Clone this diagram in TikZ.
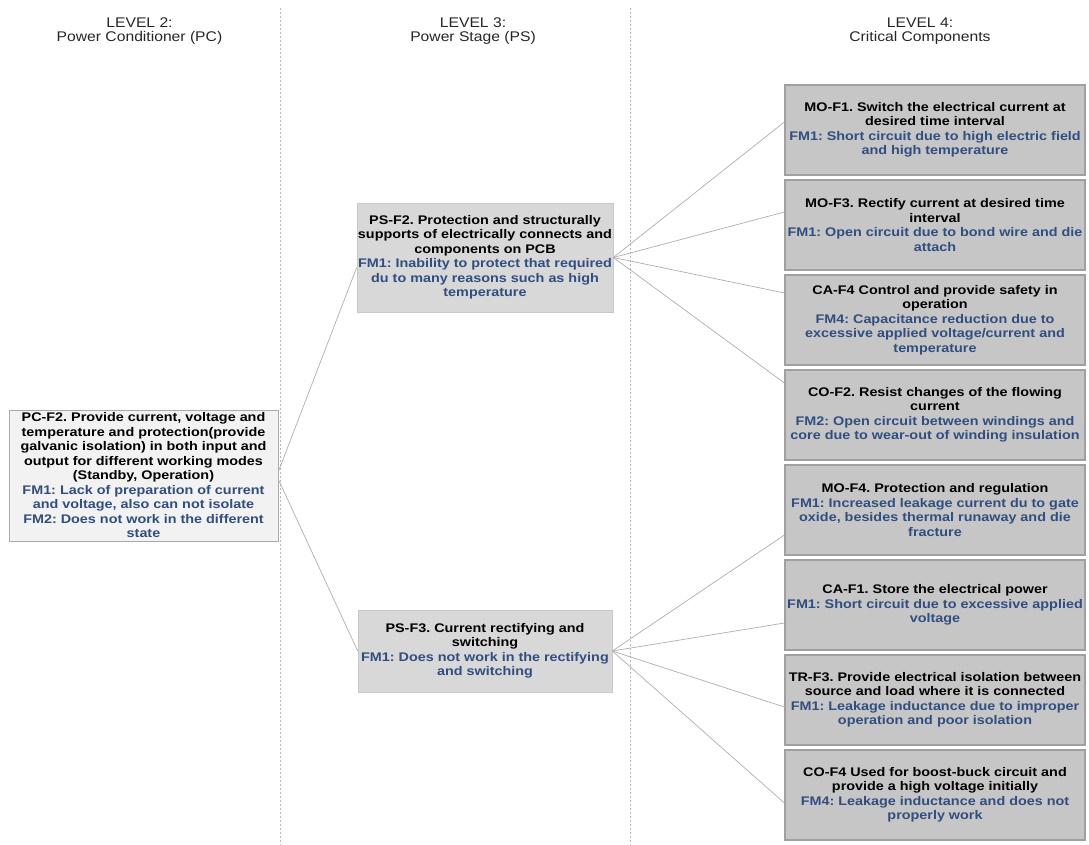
\documentclass[tikz,border=0pt]{standalone}
\usepackage{fontspec}
\setmainfont{Liberation Sans}
\newfontfamily\headfont[FakeStretch=1.12]{Liberation Sans}
\newfontfamily\boxfont[FakeStretch=1.15]{Liberation Sans}
\definecolor{fmblue}{RGB}{48,78,128}
\definecolor{sepgray}{RGB}{185,185,185}
\definecolor{linegray}{RGB}{175,175,175}
\definecolor{pcfill}{RGB}{242,242,242}
\definecolor{pcdraw}{RGB}{170,170,170}
\definecolor{psfill}{RGB}{216,216,216}
\definecolor{psdraw}{RGB}{200,200,200}
\definecolor{ccfill}{RGB}{198,198,198}
\definecolor{ccdraw}{RGB}{160,160,160}
\begin{document}
\frenchspacing
\begin{tikzpicture}[x=1pt,y=-1pt,
  header/.style={font=\headfont\fontsize{14}{14}\selectfont, align=center, text=black!85},
  boxtext/.style={font=\boxfont\fontsize{12.5}{14.5}\selectfont\bfseries, align=center, inner sep=1pt},
  pcbox/.style={boxtext, fill=pcfill, draw=pcdraw, line width=0.8pt, minimum width=269pt, minimum height=131pt},
  psbox/.style={boxtext, fill=psfill, draw=psdraw, line width=0.6pt, minimum width=254pt},
  ccbox/.style={boxtext, fill=ccfill, draw=ccdraw, line width=1.2pt, minimum width=300pt, minimum height=90pt},
  sep/.style={draw=sepgray, line width=0.6pt, dash pattern=on 2pt off 2pt},
  conn/.style={draw=linegray, line width=0.7pt}]
\useasboundingbox (0,0) rectangle (1089,845);
\fill[white] (0,0) rectangle (1089,845);

% separators
\coordinate (s1t) at (280,8);
\coordinate (s1b) at (280,845);
\coordinate (s2t) at (630,8);
\coordinate (s2b) at (630,845);
\draw[sep] (s1t) -- (s1b);
\draw[sep] (s2t) -- (s2b);

% headers
\node[header] (h2) at (139.5,31) {LEVEL 2:\\Power Conditioner (PC)};
\node[header] (h3) at (473,31) {LEVEL 3:\\Power Stage (PS)};
\node[header] (h4) at (920,31) {LEVEL 4:\\Critical Components};

% level 2
\node[pcbox] (pc) at (143.5,475.5) {PC-F2. Provide current, voltage and\\temperature and protection(provide\\galvanic isolation) in both input and\\output for different working modes\\(Standby, Operation)\\\textcolor{fmblue}{FM1: Lack of preparation of current}\\\textcolor{fmblue}{and voltage, also can not isolate}\\\textcolor{fmblue}{FM2: Does not work in the different}\\\textcolor{fmblue}{state}};

% level 3
\node[psbox, minimum height=109pt] (ps2) at (485,257.5) {PS-F2. Protection and structurally\\supports of electrically connects and\\components on PCB\\\textcolor{fmblue}{FM1: Inability to protect that required}\\\textcolor{fmblue}{du to many reasons such as high}\\\textcolor{fmblue}{temperature}};
\node[psbox, minimum height=82pt] (ps3) at (485,651) {PS-F3. Current rectifying and\\switching\\\textcolor{fmblue}{FM1: Does not work in the rectifying}\\\textcolor{fmblue}{and switching}};

% level 4
\node[ccbox] (mo1) at (935,130) {MO-F1. Switch the electrical current at\\desired time interval\\\textcolor{fmblue}{FM1: Short circuit due to high electric field}\\\textcolor{fmblue}{and high temperature}};
\node[ccbox] (mo3) at (935,225) {MO-F3. Rectify current at desired time\\interval\\\textcolor{fmblue}{FM1: Open circuit due to bond wire and die}\\\textcolor{fmblue}{attach}};
\node[ccbox] (ca4) at (935,320) {CA-F4 Control and provide safety in\\operation\\\textcolor{fmblue}{FM4: Capacitance reduction due to}\\\textcolor{fmblue}{excessive applied voltage/current and}\\\textcolor{fmblue}{temperature}};
\node[ccbox] (co2) at (935,415) {CO-F2. Resist changes of the flowing\\current\\\textcolor{fmblue}{FM2: Open circuit between windings and}\\\textcolor{fmblue}{core due to wear-out of winding insulation}};
\node[ccbox] (mo4) at (935,510) {MO-F4. Protection and regulation\\\textcolor{fmblue}{FM1: Increased leakage current du to gate}\\\textcolor{fmblue}{oxide, besides thermal runaway and die}\\\textcolor{fmblue}{fracture}};
\node[ccbox] (ca1) at (935,605) {CA-F1. Store the electrical power\\\textcolor{fmblue}{FM1: Short circuit due to excessive applied}\\\textcolor{fmblue}{voltage}};
\node[ccbox] (tr3) at (935,700) {TR-F3. Provide electrical isolation between\\source and load where it is connected\\\textcolor{fmblue}{FM1: Leakage inductance due to improper}\\\textcolor{fmblue}{operation and poor isolation}};
\node[ccbox] (co4) at (935,795) {CO-F4 Used for boost-buck circuit and\\provide a high voltage initially\\\textcolor{fmblue}{FM4: Leakage inductance and does not}\\\textcolor{fmblue}{properly work}};

% connectors
\draw[conn] ([yshift=4pt]pc.east) -- ([yshift=-10pt]ps2.west);
\draw[conn] ([yshift=-4pt]pc.east) -- (ps3.west);
\draw[conn] (ps2.east) -- ([yshift=8pt]mo1.west);
\draw[conn] (ps2.east) -- ([yshift=13pt]mo3.west);
\draw[conn] (ps2.east) -- ([yshift=27pt]ca4.west);
\draw[conn] (ps2.east) -- ([yshift=32pt]co2.west);
\draw[conn] (ps3.east) -- ([yshift=-25pt]mo4.west);
\draw[conn] (ps3.east) -- ([yshift=-18pt]ca1.west);
\draw[conn] (ps3.east) -- ([yshift=-7pt]tr3.west);
\draw[conn] (ps3.east) -- ([yshift=-8pt]co4.west);
\end{tikzpicture}
\end{document}
